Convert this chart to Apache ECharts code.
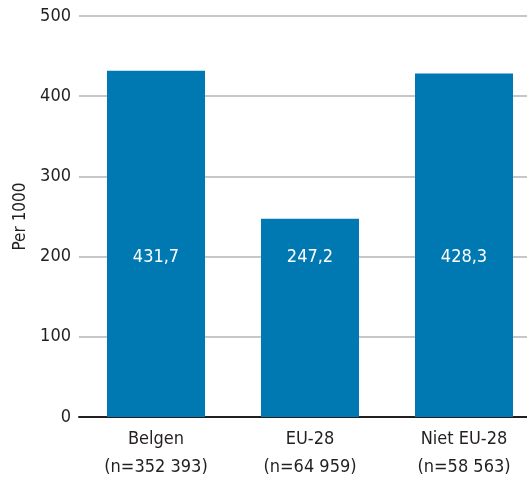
<!DOCTYPE html>
<html>
<head>
<meta charset="utf-8">
<script src="https://cdn.jsdelivr.net/npm/echarts@6/dist/echarts.min.js"></script>
<style>
  html, body { margin: 0; padding: 0; background: #fff; overflow: hidden; }
  #chart { width: 527px; height: 480px; }
</style>
</head>
<body>
<div id="chart"></div>
<script>
// Population groups and their rate per 1000
const categories = ['Belgen\n(n=352 393)', 'EU-28\n(n=64 959)', 'Niet EU-28\n(n=58 563)'];
const values = [431.7, 247.2, 428.3];
const yTicks = { min: 0, max: 500, interval: 100 };

const FONT = '"Liberation Sans Narrow", "DejaVu Sans Condensed", "Roboto", sans-serif';
const fmt = v => String(v).replace('.', ',');

const chart = echarts.init(document.getElementById('chart'), null, { renderer: 'canvas' });
chart.setOption({
  animation: false,
  // plot area runs a little past the right edge of the canvas
  grid: { left: 79, width: 462, top: 16, bottom: 63, containLabel: false, outerBoundsMode: 'none' },
  xAxis: {
    type: 'category',
    data: categories,
    axisTick: { show: false },
    axisLine: { show: true, lineStyle: { color: '#231f20', width: 2 } },
    axisLabel: {
      color: '#231f20', fontFamily: FONT, fontSize: 18, lineHeight: 28, margin: 8
    }
  },
  yAxis: {
    type: 'value',
    min: yTicks.min, max: yTicks.max, interval: yTicks.interval,
    name: 'Per 1000',
    nameLocation: 'middle',
    nameGap: 47,
    nameTextStyle: { color: '#231f20', fontFamily: FONT, fontSize: 17 },
    axisLine: { show: false },
    axisTick: { show: false },
    axisLabel: { color: '#231f20', fontFamily: FONT, fontSize: 18, margin: 8 },
    splitLine: { lineStyle: { color: '#b4b4b4', width: 1.5 } }
  },
  series: [{
    type: 'bar',
    data: values,
    barWidth: 98,
    itemStyle: { color: '#0079b2' },
    label: {
      show: true,
      position: 'insideBottom',
      distance: 151,
      color: '#ffffff',
      fontFamily: FONT,
      fontSize: 18,
      formatter: p => fmt(p.value)
    }
  }]
});
</script>
</body>
</html>
